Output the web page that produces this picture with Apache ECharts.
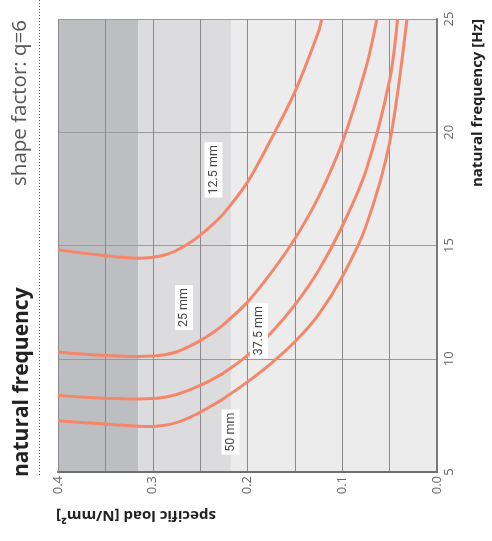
<!DOCTYPE html>
<html><head><meta charset="utf-8">
<script src="https://cdn.jsdelivr.net/npm/echarts@6/dist/echarts.min.js"></script>
<style>html,body{margin:0;padding:0;background:#fff}#c{width:492px;height:541px}</style>
</head><body><div id="c"></div>
<script>
// Data: specific load [N/mm²] vs natural frequency [Hz]
const curveNames = ['12.5 mm', '25 mm', '37.5 mm', '50 mm'];

const load_12_5 = [0.400, 0.375, 0.350, 0.330, 0.315, 0.300, 0.2875, 0.275, 0.2625, 0.250, 0.2375, 0.225, 0.200, 0.175, 0.150, 0.125, 0.1216];
const freq_12_5 = [14.81, 14.67, 14.55, 14.47, 14.44, 14.48, 14.58, 14.78, 15.08, 15.45, 15.90, 16.42, 17.80, 19.70, 21.78, 24.45, 25.0];

const load_25 = [0.400, 0.375, 0.350, 0.330, 0.315, 0.300, 0.2875, 0.275, 0.2625, 0.250, 0.2375, 0.225, 0.200, 0.175, 0.150, 0.125, 0.100, 0.075, 0.0634];
const freq_25 = [10.30, 10.21, 10.14, 10.11, 10.10, 10.12, 10.18, 10.30, 10.52, 10.80, 11.13, 11.52, 12.50, 13.80, 15.30, 17.15, 19.55, 22.85, 25.0];

const load_37_5 = [0.400, 0.375, 0.350, 0.330, 0.315, 0.300, 0.2875, 0.275, 0.2625, 0.250, 0.2375, 0.225, 0.200, 0.175, 0.150, 0.125, 0.100, 0.075, 0.050, 0.0416];
const freq_37_5 = [8.38, 8.31, 8.26, 8.23, 8.22, 8.24, 8.30, 8.42, 8.60, 8.82, 9.08, 9.38, 10.15, 11.15, 12.38, 13.90, 15.85, 18.30, 22.30, 25.0];

const load_50 = [0.400, 0.375, 0.350, 0.330, 0.315, 0.300, 0.2875, 0.275, 0.2625, 0.250, 0.2375, 0.225, 0.200, 0.175, 0.150, 0.125, 0.100, 0.075, 0.050, 0.0317];
const freq_50 = [7.26, 7.19, 7.12, 7.06, 7.02, 7.01, 7.06, 7.18, 7.38, 7.64, 7.93, 8.25, 8.98, 9.80, 10.75, 11.95, 13.62, 15.85, 19.55, 25.0];

// curve label anchors (load, frequency)
const labelLoad = [0.236, 0.267, 0.188, 0.218];
const labelFreq = [18.34, 12.26, 11.24, 6.76];

// shaded load ranges
const bandFrom = [0.4, 0.315, 0.2175];
const bandTo = [0.315, 0.2175, 0.0];

// axis ranges / ticks
const loadMin = 0, loadMax = 0.4, loadStep = 0.05;
const freqMin = 5, freqMax = 25, freqStep = 5;

const loadsAll = [load_12_5, load_25, load_37_5, load_50];
const freqsAll = [freq_12_5, freq_25, freq_37_5, freq_50];
const bandColors = ['#bdbec1', '#dcdcde', '#ececec'];
const curveColor = '#f4876b';
const FONT = '"Open Sans", sans-serif';
const LFONT = 'Roboto, sans-serif';

const chart = echarts.init(document.getElementById('c'), null, {renderer: 'canvas'});

const series = [{
  type: 'custom',
  z: 1,
  silent: true,
  data: bandFrom.map((f, i) => [f, bandTo[i], i]),
  renderItem: function (params, api) {
    const p1 = api.coord([api.value(0), freqMax]);
    const p2 = api.coord([api.value(1), freqMin]);
    const idx = api.value(2);
    return {
      type: 'rect',
      shape: {x: Math.min(p1[0], p2[0]), y: p1[1], width: Math.abs(p2[0] - p1[0]), height: p2[1] - p1[1]},
      style: {fill: bandColors[idx]}
    };
  }
}];

curveNames.forEach((name, i) => {
  series.push({
    type: 'line',
    name: name,
    z: 5,
    data: loadsAll[i].map((l, j) => [l, freqsAll[i][j]]),
    symbol: 'none',
    smooth: 0.3,
    lineStyle: {color: curveColor, width: 3},
    markPoint: {
      symbol: 'rect',
      symbolSize: 0,
      silent: true,
      z: 8,
      data: [{name: name, coord: [labelLoad[i], labelFreq[i]]}],
      label: {
        show: true,
        position: 'inside',
        formatter: '{b}',
        rotate: 90,
        color: '#444',
        fontFamily: LFONT,
        fontSize: 12.5,
        backgroundColor: '#ffffff',
        padding: [3, 3, 2, 3]
      }
    }
  });
});

chart.setOption({
  animation: false,
  backgroundColor: '#ffffff',
  grid: {left: 58, right: 55, top: 19, bottom: 69, containLabel: false, outerBoundsMode: 'none'},
  xAxis: {
    type: 'value', min: loadMin, max: loadMax, interval: loadStep, inverse: true,
    position: 'bottom', z: 3,
    axisLine: {show: true, onZero: false, lineStyle: {color: '#6e6e6e', width: 2}},
    axisTick: {show: false},
    splitLine: {show: true, lineStyle: {color: '#8a8a8a', width: 1}},
    axisLabel: {
      rotate: 90, margin: 4, color: '#666', fontFamily: FONT, fontSize: 13,
      formatter: function (v) { return Math.round(v * 100) % 10 === 0 ? v.toFixed(1) : ''; }
    }
  },
  yAxis: {
    type: 'value', min: freqMin, max: freqMax, interval: freqStep,
    position: 'right', z: 3,
    axisLine: {show: true, onZero: false, lineStyle: {color: '#787878', width: 2}},
    axisTick: {show: false},
    splitLine: {show: true, lineStyle: {color: '#9a9a9a', width: 1}},
    axisLabel: {rotate: 90, margin: 6, color: '#666', fontFamily: FONT, fontSize: 13}
  },
  graphic: [
    {type: 'line', shape: {x1: 39.5, y1: 0, x2: 39.5, y2: 477}, style: {stroke: '#555', lineWidth: 1, lineDash: [1, 2]}, z: 10},
    {type: 'text', x: 22, y: 477, rotation: Math.PI / 2, z: 10,
      style: {text: 'natural frequency', font: 'bold 21px ' + FONT, fill: '#222', align: 'left', textAlign: 'left', verticalAlign: 'middle', textVerticalAlign: 'middle'}},
    {type: 'text', x: 20, y: 20, rotation: Math.PI / 2, z: 10,
      style: {text: 'shape factor: q=6', font: '20.5px ' + FONT, fill: '#555', align: 'right', textAlign: 'right', verticalAlign: 'middle', textVerticalAlign: 'middle'}},
    {type: 'text', x: 478, y: 19, rotation: Math.PI / 2, z: 10,
      style: {text: 'natural frequency [Hz]', font: 'bold 15px ' + FONT, fill: '#222', align: 'right', textAlign: 'right', verticalAlign: 'middle', textVerticalAlign: 'middle'}},
    {type: 'text', x: 136, y: 515, rotation: Math.PI, z: 10,
      style: {text: 'specific load [N/mm²]', font: 'bold 15px ' + FONT, fill: '#222', align: 'center', textAlign: 'center', verticalAlign: 'middle', textVerticalAlign: 'middle'}}
  ],
  series: series
});
</script></body></html>
